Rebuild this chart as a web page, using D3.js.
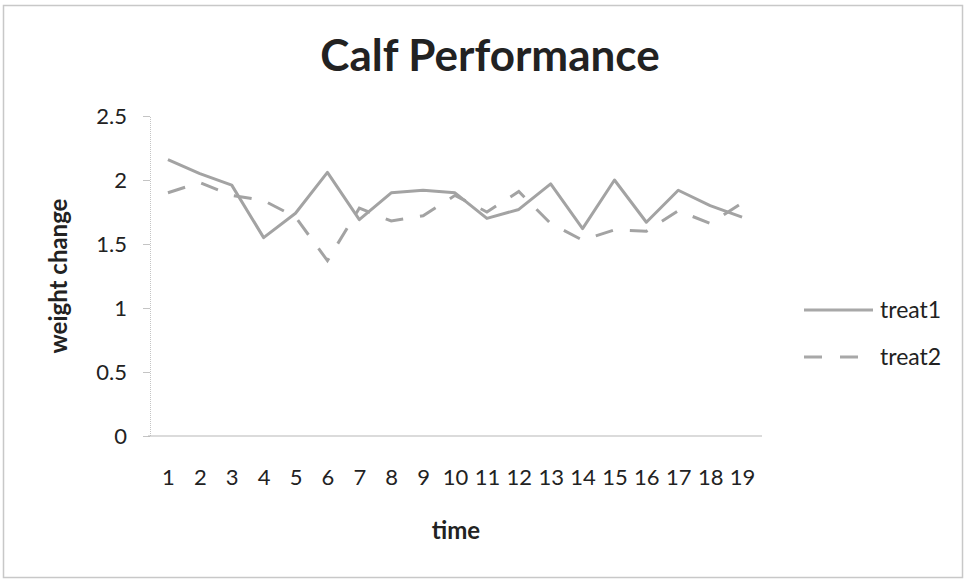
<!DOCTYPE html>
<html>
<head>
<meta charset="utf-8">
<script src="https://cdn.jsdelivr.net/npm/d3@7"></script>
<style>
  body { margin: 0; background: #fff; }
  text { font-family: Lato, "Open Sans", sans-serif; fill: #222; }
</style>
</head>
<body>
<div id="chart"></div>
<script>
const times = ["1","2","3","4","5","6","7","8","9","10","11","12","13","14","15","16","17","18","19"];
const treat1 = [2.16, 2.05, 1.96, 1.55, 1.74, 2.06, 1.69, 1.90, 1.92, 1.90, 1.70, 1.77, 1.97, 1.62, 2.00, 1.67, 1.92, 1.80, 1.71];
const treat2 = [1.90, 1.98, 1.88, 1.84, 1.71, 1.37, 1.78, 1.68, 1.72, 1.88, 1.75, 1.91, 1.66, 1.53, 1.61, 1.60, 1.76, 1.66, 1.82];
const y_ticks = [0, 0.5, 1, 1.5, 2, 2.5];
const series_names = ["treat1", "treat2"];

const W = 966, H = 581;
const margin = {top: 116, right: 208, bottom: 145, left: 152};

let svg = d3.select("#chart").append("svg")
  .attr("width", W)
  .attr("height", H);

// outer frame
svg.append("rect")
  .attr("x", 3.5).attr("y", 5.5)
  .attr("width", W - 7).attr("height", H - 9)
  .attr("fill", "none")
  .attr("stroke", "#c8c8c8")
  .attr("stroke-width", 1.5);

let x = d3.scalePoint()
  .domain(times)
  .range([margin.left, W - margin.right])
  .padding(0.5);
let y = d3.scaleLinear()
  .domain([0, 2.5])
  .range([H - margin.bottom, margin.top]);

// y axis
let yAxis = svg.append("g")
  .attr("transform", "translate(" + (margin.left - 2) + ",0)")
  .call(d3.axisLeft(y).tickValues(y_ticks).tickSize(7).tickPadding(16)
    .tickFormat(d => String(d)));
yAxis.select(".domain").attr("stroke", "#c4c4c4").attr("stroke-dasharray", "1,1");
yAxis.selectAll(".tick line").attr("stroke", "#c4c4c4");
yAxis.selectAll("text").style("font-size", "22px").attr("fill", "#333");

// x axis
let xAxis = svg.append("g")
  .attr("transform", "translate(0," + (H - margin.bottom) + ")")
  .call(d3.axisBottom(x).tickSize(0).tickPadding(33));
xAxis.select(".domain").attr("stroke", "#b8b8b8").attr("stroke-width", 1.2)
  .attr("d", "M" + (margin.left - 4) + ",0H" + (W - margin.right + 4));
xAxis.selectAll("text").style("font-size", "22px").attr("fill", "#333");

let line = d3.line()
  .x((d, i) => x(times[i]))
  .y(d => y(d));

svg.append("path")
  .datum(treat1)
  .attr("fill", "none")
  .attr("stroke", "#a3a3a3")
  .attr("stroke-width", 3)
  .attr("stroke-linejoin", "round")
  .attr("d", line);

svg.append("path")
  .datum(treat2)
  .attr("fill", "none")
  .attr("stroke", "#a3a3a3")
  .attr("stroke-width", 3)
  .attr("stroke-dasharray", "18,17")
  .attr("d", line);

// title
svg.append("text")
  .attr("x", 490).attr("y", 71)
  .attr("text-anchor", "middle")
  .style("font-size", "44px")
  .style("font-weight", "bold")
  .text("Calf Performance");

svg.append("text")
  .attr("transform", "translate(67,276) rotate(-90)")
  .attr("text-anchor", "middle")
  .style("font-size", "24px")
  .style("font-weight", "bold")
  .text("weight change");

svg.append("text")
  .attr("x", 456).attr("y", 539)
  .attr("text-anchor", "middle")
  .style("font-size", "24px")
  .style("font-weight", "bold")
  .text("time");

// legend
let legend = svg.append("g");
series_names.forEach(function(name, i) {
  let ly = 310 + i * 47;
  legend.append("line")
    .attr("x1", 804).attr("x2", 873)
    .attr("y1", ly).attr("y2", ly)
    .attr("stroke", "#a8a8a8")
    .attr("stroke-width", 3)
    .attr("stroke-dasharray", i == 1 ? "18,18" : null);
  legend.append("text")
    .attr("x", 880).attr("y", ly + 8)
    .style("font-size", "23px")
    .attr("fill", "#333")
    .text(name);
});
</script>
</body>
</html>
